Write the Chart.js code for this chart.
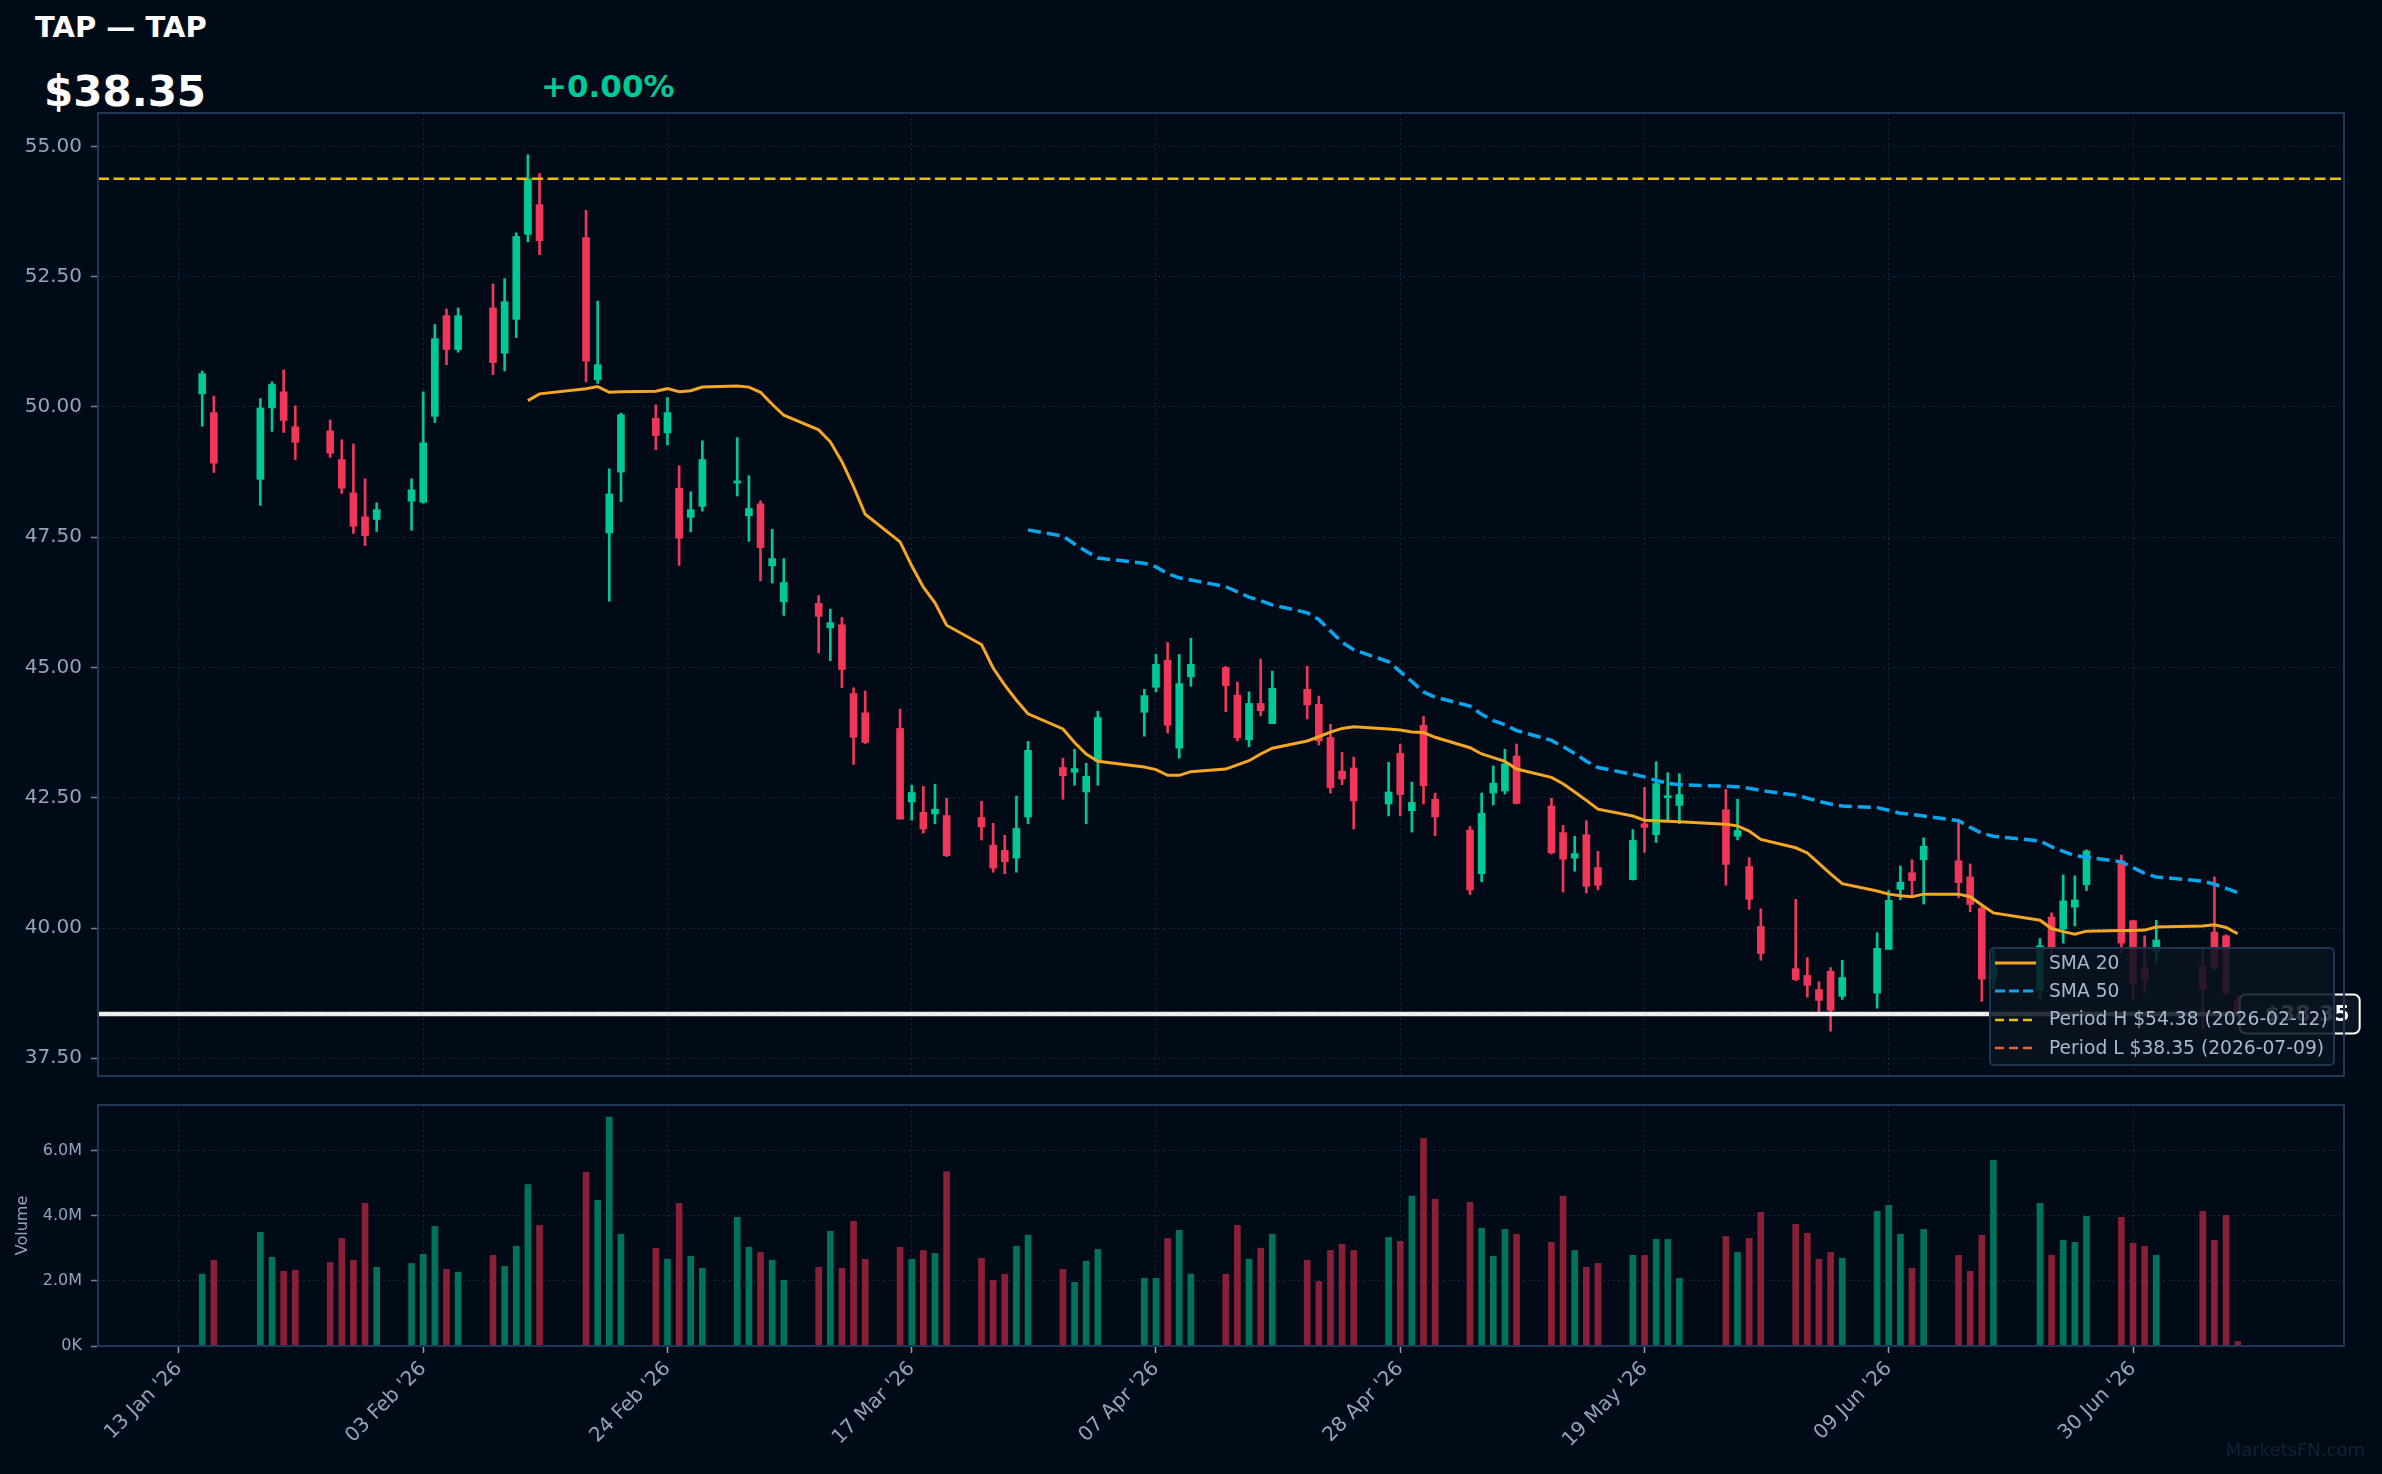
<!DOCTYPE html>
<html>
<head>
<meta charset="utf-8">
<script src="https://cdn.jsdelivr.net/npm/chart.js@4.4.1/dist/chart.umd.min.js"></script>
<style>
  html, body { margin: 0; padding: 0; background: #010b17; }
  body { width: 2382px; height: 1474px; position: relative; overflow: hidden; font-family: "DejaVu Sans", sans-serif; }
  .abs { position: absolute; white-space: nowrap; line-height: 1; }
  #title { left: 35px; top: 13px; font-size: 29px; font-weight: bold; color: #ffffff; }
  #price { left: 44px; top: 71px; font-size: 42px; font-weight: bold; color: #ffffff; }
  #change { left: 541px; top: 71px; font-size: 31px; font-weight: bold; color: #00c896; }
  canvas { position: absolute; left: 0; }
  #priceChart { top: 0; }
  #volChart { top: 1080px; }
  #legend { left: 1989px; top: 947px; width: 346px; height: 119px; box-sizing: border-box;
            background: rgba(9, 19, 32, 0.86); border: 2px solid #1f3450; border-radius: 5px; }
  #legend .row { position: absolute; left: 4px; height: 28px; display: flex; align-items: center;
                 font-size: 18.7px; color: #aab8cc; }
  #legend svg { margin-right: 13px; }
  #mark { right: 17px; top: 1441px; font-size: 18px; color: #162232; }
</style>
</head>
<body>
<div id="title" class="abs"></div>
<div id="price" class="abs"></div>
<div id="change" class="abs"></div>
<canvas id="priceChart" width="2382" height="1106"></canvas>
<canvas id="volChart" width="2382" height="394"></canvas>
<div id="legend" class="abs"></div>
<div id="mark" class="abs">MarketsFN.com</div>
<script>
const ticker = "TAP";
const companyName = "TAP";

const dates = [
  "2026-01-15","2026-01-16","2026-01-20","2026-01-21","2026-01-22","2026-01-23","2026-01-26","2026-01-27","2026-01-28","2026-01-29","2026-01-30",
  "2026-02-02","2026-02-03","2026-02-04","2026-02-05","2026-02-06","2026-02-09","2026-02-10","2026-02-11","2026-02-12","2026-02-13","2026-02-17","2026-02-18","2026-02-19","2026-02-20","2026-02-23","2026-02-24","2026-02-25","2026-02-26","2026-02-27",
  "2026-03-02","2026-03-03","2026-03-04","2026-03-05","2026-03-06","2026-03-09","2026-03-10","2026-03-11","2026-03-12","2026-03-13","2026-03-16","2026-03-17","2026-03-18","2026-03-19","2026-03-20","2026-03-23","2026-03-24","2026-03-25","2026-03-26","2026-03-27","2026-03-30","2026-03-31",
  "2026-04-01","2026-04-02","2026-04-06","2026-04-07","2026-04-08","2026-04-09","2026-04-10","2026-04-13","2026-04-14","2026-04-15","2026-04-16","2026-04-17","2026-04-20","2026-04-21","2026-04-22","2026-04-23","2026-04-24","2026-04-27","2026-04-28","2026-04-29","2026-04-30",
  "2026-05-01","2026-05-04","2026-05-05","2026-05-06","2026-05-07","2026-05-08","2026-05-11","2026-05-12","2026-05-13","2026-05-14","2026-05-15","2026-05-18","2026-05-19","2026-05-20","2026-05-21","2026-05-22","2026-05-26","2026-05-27","2026-05-28","2026-05-29",
  "2026-06-01","2026-06-02","2026-06-03","2026-06-04","2026-06-05","2026-06-08","2026-06-09","2026-06-10","2026-06-11","2026-06-12","2026-06-15","2026-06-16","2026-06-17","2026-06-18","2026-06-22","2026-06-23","2026-06-24","2026-06-25","2026-06-26","2026-06-29","2026-06-30",
  "2026-07-01","2026-07-02","2026-07-06","2026-07-07","2026-07-08","2026-07-09"
];

const opens = [
  50.25, 49.89, 48.61, 49.98, 50.29, 49.62, 49.54, 48.99, 48.35, 47.89, 47.84,
  48.19, 48.17, 49.82, 51.75, 51.10, 51.90, 51.03, 51.68, 53.31, 53.88, 53.25, 50.52, 47.58, 48.75, 49.78, 49.50, 48.44, 47.88, 48.09,
  48.54, 47.91, 48.14, 46.95, 46.26, 46.23, 45.76, 45.82, 44.50, 44.13, 43.83, 42.42, 42.22, 42.19, 42.16, 42.12, 41.59, 41.49, 41.34, 42.13, 43.08, 42.99,
  42.61, 43.20, 44.14, 44.62, 45.14, 43.45, 44.82, 45.00, 44.47, 43.61, 44.31, 43.92, 44.58, 44.29, 43.66, 43.01, 43.07, 42.38, 43.35, 42.25, 43.89,
  42.47, 41.88, 41.04, 42.59, 42.63, 43.30, 42.34, 41.83, 41.34, 41.79, 41.16, 40.93, 42.00, 41.79, 42.50, 42.35, 42.27, 41.76, 41.18, 40.03,
  39.22, 39.09, 38.82, 39.17, 38.69, 38.75, 39.59, 40.74, 41.06, 41.31, 41.29, 40.98, 40.38, 39.02, 38.80, 40.21, 39.98, 40.40, 40.83, 41.29, 40.14,
  39.25, 39.55, 39.27, 39.92, 39.85, 38.60
];
const highs = [
  50.69, 50.21, 50.16, 50.48, 50.71, 50.02, 49.75, 49.37, 49.29, 48.62, 48.16,
  48.62, 50.29, 51.58, 51.88, 51.90, 52.36, 52.46, 53.34, 54.84, 54.48, 53.77, 52.03, 48.81, 49.88, 50.04, 50.18, 48.87, 48.37, 49.35,
  49.41, 48.68, 48.20, 47.65, 47.09, 46.38, 46.12, 45.96, 44.61, 44.55, 44.20, 42.74, 42.72, 42.76, 42.49, 42.43, 42.01, 41.78, 42.53, 43.58, 43.26, 43.43,
  43.16, 44.16, 44.58, 45.25, 45.48, 45.25, 45.56, 45.02, 44.72, 44.53, 45.16, 44.93, 45.02, 44.45, 43.91, 43.37, 43.28, 43.18, 43.53, 42.80, 44.06,
  42.59, 41.95, 42.59, 43.11, 43.43, 43.53, 42.49, 41.97, 41.76, 42.06, 41.47, 41.89, 42.70, 43.19, 42.98, 42.96, 42.66, 42.47, 41.35, 40.37,
  40.55, 39.43, 38.97, 39.24, 39.38, 39.91, 40.72, 41.19, 41.31, 41.73, 42.03, 41.23, 40.43, 39.61, 39.80, 40.29, 41.02, 41.00, 41.50, 41.40, 40.15,
  39.85, 40.15, 39.62, 40.98, 39.87, 38.70
];
const lows = [
  49.63, 48.74, 48.11, 49.53, 49.51, 48.99, 49.03, 48.34, 47.57, 47.34, 47.61,
  47.63, 48.15, 49.70, 50.81, 51.05, 50.62, 50.69, 51.33, 53.17, 52.92, 50.48, 50.45, 46.27, 48.18, 49.18, 49.27, 46.96, 47.60, 48.00,
  48.29, 47.42, 46.66, 46.62, 46.00, 45.28, 45.13, 44.61, 43.14, 43.54, 42.09, 42.07, 41.82, 42.00, 41.37, 41.69, 41.07, 41.04, 41.07, 42.00, 42.47, 42.74,
  42.00, 42.74, 43.68, 44.53, 43.74, 43.26, 44.64, 44.15, 43.59, 43.48, 44.07, 43.92, 44.01, 43.51, 42.59, 42.75, 41.90, 42.15, 42.15, 41.84, 42.38,
  41.77, 40.64, 40.89, 42.36, 42.57, 42.38, 41.42, 40.69, 41.09, 40.67, 40.73, 40.92, 41.45, 41.64, 42.08, 42.00, 40.82, 41.69, 40.36, 39.38,
  38.99, 38.67, 38.39, 38.02, 38.63, 38.46, 39.59, 40.54, 40.63, 40.46, 40.58, 40.31, 38.59, 38.83, 38.64, 39.45, 39.71, 40.04, 40.72, 39.52, 38.62,
  38.75, 39.34, 38.06, 39.21, 38.72, 38.30
];
const closes = [
  50.64, 48.92, 49.98, 50.43, 49.74, 49.32, 49.11, 48.44, 47.71, 47.53, 48.03,
  48.41, 49.31, 51.31, 51.10, 51.75, 50.85, 52.02, 53.27, 54.38, 53.19, 50.88, 50.81, 48.33, 49.85, 49.45, 49.89, 47.48, 48.03, 48.99,
  48.58, 48.05, 47.30, 47.09, 46.63, 45.98, 45.86, 44.96, 43.66, 43.56, 42.09, 42.60, 41.90, 42.28, 41.39, 41.94, 41.15, 41.27, 41.91, 43.41, 42.92, 43.06,
  42.91, 44.04, 44.46, 45.06, 43.89, 44.69, 45.06, 44.65, 43.65, 44.31, 44.17, 44.60, 44.28, 43.59, 42.69, 42.86, 42.44, 42.61, 42.56, 42.41, 42.73,
  42.13, 40.73, 42.20, 42.78, 43.15, 42.39, 41.44, 41.32, 41.43, 40.80, 40.82, 41.68, 41.93, 42.77, 42.54, 42.56, 41.22, 41.87, 40.55, 39.51,
  39.01, 38.90, 38.61, 38.42, 39.05, 39.61, 40.53, 40.88, 40.91, 41.57, 40.87, 40.45, 39.02, 39.37, 39.66, 39.63, 40.52, 40.54, 41.48, 39.71, 38.93,
  39.00, 39.77, 38.83, 39.23, 38.75, 38.35
];
// millions of shares
const volumes = [
  2.21, 2.64, 3.50, 2.73, 2.30, 2.33, 2.57, 3.31, 2.64, 4.39, 2.42,
  2.54, 2.82, 3.68, 2.36, 2.27, 2.79, 2.45, 3.07, 4.97, 3.71, 5.34, 4.48, 7.04, 3.44, 3.01, 2.67, 4.39, 2.76, 2.39,
  3.96, 3.04, 2.88, 2.64, 2.02, 2.42, 3.53, 2.39, 3.84, 2.67, 3.04, 2.67, 2.94, 2.85, 5.37, 2.70, 2.02, 2.21, 3.07, 3.41, 2.36, 1.96,
  2.61, 2.97, 2.08, 2.08, 3.31, 3.56, 2.21, 2.21, 3.71, 2.67, 3.01, 3.44, 2.64, 1.99, 2.94, 3.13, 2.94, 3.34, 3.22, 4.61, 6.39,
  4.51, 4.42, 3.62, 2.76, 3.59, 3.44, 3.19, 4.61, 2.94, 2.42, 2.54, 2.79, 2.79, 3.28, 3.28, 2.08, 3.37, 2.88, 3.31, 4.11,
  3.74, 3.47, 2.67, 2.88, 2.70, 4.14, 4.33, 3.44, 2.39, 3.59, 2.79, 2.30, 3.41, 5.71, 4.39, 2.79, 3.25, 3.19, 3.99, 3.96, 3.16,
  3.07, 2.79, 4.14, 3.25, 4.02, 0.14
];

// SMA 20, first value on 2026-02-12
const sma20Start = "2026-02-12";
const sma20 = [
  50.12, 50.25, 50.35, 50.39, 50.28, 50.29, 50.30, 50.35, 50.29, 50.31, 50.38,
  50.40, 50.38, 50.28, 50.05, 49.84, 49.56, 49.33, 48.95, 48.47, 47.94, 47.41, 46.95, 46.54, 46.24, 45.81, 45.44, 44.99, 44.66, 44.37, 44.11, 43.82, 43.56,
  43.34, 43.20, 43.09, 43.04, 42.93, 42.93, 43.00, 43.05, 43.13, 43.21, 43.34, 43.45, 43.59, 43.67, 43.76, 43.83, 43.86, 43.82, 43.80, 43.76, 43.75,
  43.66, 43.46, 43.34, 43.27, 43.20, 43.05, 42.89, 42.77, 42.61, 42.45, 42.28, 42.15, 42.07, 42.06, 42.05, 42.04, 41.99, 41.96, 41.86, 41.70,
  41.54, 41.44, 41.24, 41.04, 40.85, 40.71, 40.65, 40.62, 40.60, 40.65, 40.65, 40.60, 40.44, 40.29, 40.15, 39.99, 39.93, 39.88, 39.94, 39.95, 39.95,
  39.96, 40.02, 40.04, 40.06, 40.01, 39.89
];
// SMA 50, first value on 2026-03-27
const sma50Start = "2026-03-27";
const sma50 = [
  47.64, 47.52, 47.37,
  47.23, 47.10, 47.00, 46.93, 46.80, 46.72, 46.68, 46.55, 46.45, 46.35, 46.28, 46.20, 46.05, 45.92, 45.70, 45.48, 45.34, 45.11, 44.92, 44.73, 44.53,
  44.43, 44.26, 44.10, 43.98, 43.90, 43.79, 43.60, 43.48, 43.35, 43.20, 43.08, 42.95, 42.90, 42.83, 42.78, 42.75, 42.72, 42.71, 42.68, 42.64,
  42.55, 42.49, 42.43, 42.38, 42.34, 42.31, 42.26, 42.20, 42.18, 42.15, 42.06, 41.93, 41.82, 41.76, 41.67, 41.56, 41.47, 41.39, 41.36, 41.27, 41.16,
  41.05, 40.98, 40.90, 40.84, 40.76, 40.68
];

const periodHigh = 54.38, periodHighDate = "2026-02-12";
const periodLow = 38.35, periodLowDate = "2026-07-09";
const lastPrice = 38.35;
const changePct = 0.00;

const tickDates = ["2026-01-13","2026-02-03","2026-02-24","2026-03-17","2026-04-07","2026-04-28","2026-05-19","2026-06-09","2026-06-30"];
const tickLabels = ["13 Jan '26","03 Feb '26","24 Feb '26","17 Mar '26","07 Apr '26","28 Apr '26","19 May '26","09 Jun '26","30 Jun '26"];
const priceTicks = [37.5, 40, 42.5, 45, 47.5, 50, 52.5, 55];
const volumeTicks = [0, 2, 4, 6];
const volumeTickLabels = ["0K", "2.0M", "4.0M", "6.0M"];

const UP = "#00c896", DOWN = "#f0375a";
const UP_VOL = "#00735a", DOWN_VOL = "#8c1f38";
const GRID = "rgba(70, 92, 120, 0.35)";
const TICK_TEXT = "#92a4bc";
const FONT = "DejaVu Sans";

const base = Date.parse(tickDates[0]);
function dayOf(d) {
  return (Date.parse(d) - base) / 86400000;
}
const xs = dates.map(dayOf);
const upDay = closes.map((c, i) => c >= opens[i]);

document.getElementById("title").textContent = `${ticker} — ${companyName}`;
document.getElementById("price").textContent = `$${lastPrice.toFixed(2)}`;
document.getElementById("change").textContent = `${changePct >= 0 ? "+" : ""}${changePct.toFixed(2)}%`;

const legendItems = [
  { text: "SMA 20", color: "#f5a623", dash: "", width: 3 },
  { text: "SMA 50", color: "#0aa5ec", dash: "10 4", width: 3 },
  { text: `Period H $${periodHigh.toFixed(2)} (${periodHighDate})`, color: "#e6c200", dash: "9 5", width: 2.5 },
  { text: `Period L $${periodLow.toFixed(2)} (${periodLowDate})`, color: "#e8653a", dash: "9 5", width: 2.5 }
];
const legend = document.getElementById("legend");
legendItems.forEach((item, i) => {
  const row = document.createElement("div");
  row.className = "row";
  row.style.top = (i * 28.3) + "px";
  row.innerHTML = `<svg width="41" height="6"><line x1="0" y1="3" x2="41" y2="3" stroke="${item.color}" stroke-width="${item.width}" stroke-dasharray="${item.dash}"/></svg><span></span>`;
  row.querySelector("span").textContent = item.text;
  legend.appendChild(row);
});

// the x height is kept above the y-axis label padding, so the plot bottom stays put
function xAxis(showLabels) {
  return {
    type: "linear",
    min: -6.96,
    max: 186.14,
    offset: false,
    afterBuildTicks: (scale) => {
      scale.ticks = tickDates.map((d) => ({ value: dayOf(d) }));
    },
    afterFit: (scale) => {
      scale.height = showLabels ? 128 : 30;
    },
    grid: { offset: false, color: GRID, lineWidth: 1, drawTicks: showLabels, tickLength: 7, tickColor: "#8ea0b8", tickWidth: 1.5 },
    border: { display: false, dash: [2, 3] },
    ticks: {
      display: showLabels,
      autoSkip: false,
      maxRotation: 45,
      minRotation: 45,
      padding: 4,
      color: TICK_TEXT,
      font: { family: FONT, size: 20 },
      callback: (v, i) => tickLabels[i]
    }
  };
}

function hline(ctx, area, y, color, width, dash) {
  ctx.beginPath();
  ctx.setLineDash(dash);
  ctx.strokeStyle = color;
  ctx.lineWidth = width;
  ctx.moveTo(area.left, y);
  ctx.lineTo(area.right, y);
  ctx.stroke();
  ctx.setLineDash([]);
}

function drawFrame(chart) {
  const { ctx, chartArea: a } = chart;
  ctx.save();
  ctx.strokeStyle = "#1e3756";
  ctx.lineWidth = 2;
  ctx.strokeRect(a.left, a.top, a.right - a.left, a.bottom - a.top);
  ctx.restore();
}

const priceOverlay = {
  id: "priceOverlay",
  afterDatasetsDraw(chart) {
    const { ctx, chartArea: a, scales } = chart;
    ctx.save();
    ctx.beginPath();
    ctx.rect(a.left, a.top, a.right - a.left, a.bottom - a.top);
    ctx.clip();
    hline(ctx, a, scales.y.getPixelForValue(periodHigh), "#e6c200", 2.5, [11, 4.5]);
    hline(ctx, a, scales.y.getPixelForValue(periodLow), "#e8653a", 2.5, [11, 4.5]);
    hline(ctx, a, scales.y.getPixelForValue(lastPrice), "rgba(248,248,248,0.95)", 4.5, []);
    ctx.restore();
  },
  afterDraw(chart) {
    const { ctx, scales } = chart;
    const bx = scales.x.getPixelForValue(xs[xs.length - 1]) + 2;
    const by = scales.y.getPixelForValue(lastPrice);
    ctx.save();
    ctx.beginPath();
    ctx.roundRect(bx, by - 19.5, 120, 39, 6);
    ctx.fillStyle = "#0b1520";
    ctx.fill();
    ctx.lineWidth = 2;
    ctx.strokeStyle = "#ffffff";
    ctx.stroke();
    ctx.fillStyle = "#ffffff";
    ctx.font = `bold 22px "${FONT}"`;
    ctx.textAlign = "left";
    ctx.textBaseline = "middle";
    ctx.fillText(`$${lastPrice.toFixed(2)}`, bx + 25, by + 1);
    ctx.restore();
    drawFrame(chart);
  }
};

const start20 = dates.indexOf(sma20Start);
const start50 = dates.indexOf(sma50Start);

new Chart(document.getElementById("priceChart"), {
  type: "bar",
  data: {
    datasets: [
      {
        label: "wick",
        data: xs.map((x, i) => ({ x: x, y: [lows[i], highs[i]] })),
        backgroundColor: upDay.map((u) => (u ? UP : DOWN)),
        barThickness: 2,
        minBarLength: 1,
        grouped: false,
        order: 3
      },
      {
        label: "body",
        data: xs.map((x, i) => ({ x: x, y: [opens[i], closes[i]] })),
        backgroundColor: upDay.map((u) => (u ? UP : DOWN)),
        barThickness: 7,
        minBarLength: 2,
        grouped: false,
        order: 2
      },
      {
        type: "line",
        label: "SMA 20",
        data: sma20.map((v, i) => ({ x: xs[start20 + i], y: v })),
        borderColor: "#f5a623",
        borderWidth: 3,
        pointRadius: 0,
        order: 1
      },
      {
        type: "line",
        label: "SMA 50",
        data: sma50.map((v, i) => ({ x: xs[start50 + i], y: v })),
        borderColor: "#0aa5ec",
        borderWidth: 3.5,
        borderDash: [13, 6],
        pointRadius: 0,
        order: 1
      }
    ]
  },
  options: {
    responsive: false,
    animation: false,
    devicePixelRatio: 1,
    layout: { padding: { left: 0, right: 38, top: 113, bottom: 0 } },
    plugins: { legend: { display: false }, tooltip: { enabled: false } },
    scales: {
      x: xAxis(false),
      y: {
        min: 37.16,
        max: 55.64,
        afterBuildTicks: (scale) => {
          scale.ticks = priceTicks.map((v) => ({ value: v }));
        },
        afterFit: (scale) => {
          scale.width = 98;
        },
        grid: { color: GRID, lineWidth: 1, tickLength: 7, tickColor: "#6f829b", tickWidth: 1.5 },
        border: { display: false, dash: [2, 3] },
        ticks: { color: TICK_TEXT, padding: 9, font: { family: FONT, size: 20 }, callback: (v) => v.toFixed(2) }
      }
    }
  },
  plugins: [priceOverlay]
});

new Chart(document.getElementById("volChart"), {
  type: "bar",
  data: {
    datasets: [
      {
        label: "Volume",
        data: xs.map((x, i) => ({ x: x, y: volumes[i] })),
        backgroundColor: upDay.map((u) => (u ? UP_VOL : DOWN_VOL)),
        barThickness: 6
      }
    ]
  },
  options: {
    responsive: false,
    animation: false,
    devicePixelRatio: 1,
    layout: { padding: { left: 0, right: 38, top: 25, bottom: 0 } },
    plugins: { legend: { display: false }, tooltip: { enabled: false } },
    scales: {
      x: xAxis(true),
      y: {
        min: 0,
        max: 7.415,
        afterBuildTicks: (scale) => {
          scale.ticks = volumeTicks.map((v) => ({ value: v }));
        },
        afterFit: (scale) => {
          scale.width = 98;
        },
        grid: { color: GRID, lineWidth: 1, tickLength: 7, tickColor: "#6f829b", tickWidth: 1.5 },
        border: { display: false, dash: [2, 3] },
        title: { display: true, text: "Volume", color: TICK_TEXT, font: { family: FONT, size: 16 }, padding: { top: 13, bottom: 0 } },
        ticks: { color: TICK_TEXT, padding: 9, font: { family: FONT, size: 16 }, callback: (v, i) => volumeTickLabels[i] }
      }
    }
  },
  plugins: [{ id: "frame", afterDraw: drawFrame }]
});
</script>
</body>
</html>
